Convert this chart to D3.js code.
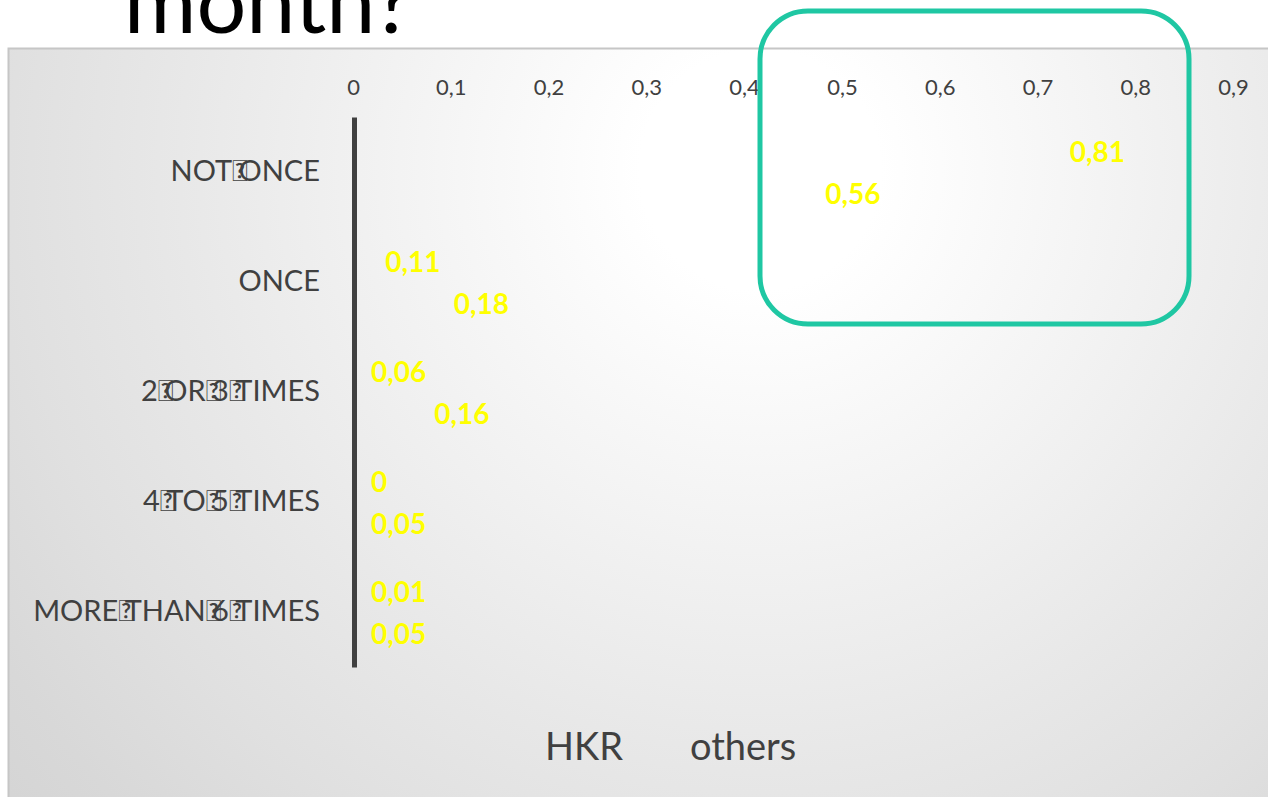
<!DOCTYPE html>
<html>
<head>
<meta charset="utf-8">
<script src="https://cdn.jsdelivr.net/npm/d3@7"></script>
<style>
  html, body { margin: 0; padding: 0; background: #ffffff; }
  svg { display: block; }
</style>
</head>
<body>
<svg id="chart" width="1268" height="797"></svg>
<script>
// ---- data ----
const title = "month?";
const categories = ["NOT\uE000ONCE", "ONCE", "2\uE000OR\uE0003\uE000TIMES", "4\uE000TO\uE0005\uE000TIMES", "MORE\uE000THAN\uE0006\uE000TIMES"];
const seriesNames = ["HKR", "others"];
const hkrValues = [0.81, 0.11, 0.06, 0, 0.01];
const othersValues = [0.56, 0.18, 0.16, 0.05, 0.05];
const tickValues = [0, 0.1, 0.2, 0.3, 0.4, 0.5, 0.6, 0.7, 0.8, 0.9];
const tickLabels = ["0", "0,1", "0,2", "0,3", "0,4", "0,5", "0,6", "0,7", "0,8", "0,9"];

const seriesValues = { "HKR": hkrValues, "others": othersValues };
const rows = categories.map((c, i) => ({ cat: c, vals: seriesNames.map(s => ({ s, v: seriesValues[s][i] })) }));

const svg = d3.select("#chart");
const W = 1268, H = 797;
const font = "Lato, 'Open Sans', 'Noto Sans', sans-serif";

// background gradient
const defs = svg.append("defs");
const grad = defs.append("radialGradient")
  .attr("id", "bg").attr("gradientUnits", "userSpaceOnUse")
  .attr("cx", 760).attr("cy", 170).attr("r", 1000);
[[0, "#ffffff"], [0.12, "#ffffff"], [0.58, "#e8e8e8"], [0.75, "#e0e0e0"], [0.9, "#d8d8d8"], [1, "#d4d4d4"]]
  .forEach(([o, c]) => grad.append("stop").attr("offset", o).attr("stop-color", c));

// title (cut off at top, as in the reference)
svg.append("text")
  .attr("x", 124).attr("y", 33)
  .attr("font-family", "Lato, 'Open Sans', sans-serif")
  .attr("font-size", 88).attr("fill", "#000")
  .text(title);

// chart area
svg.append("rect")
  .attr("x", 8.5).attr("y", 48.5).attr("width", W).attr("height", H)
  .attr("fill", "url(#bg)")
  .attr("stroke", "#c6c6c6").attr("stroke-width", 2);

// scales
const x = d3.scaleLinear().domain([0, 0.9]).range([354, 1234]);
const y = d3.scaleBand().domain(categories).range([117, 667]).paddingInner(0).paddingOuter(0);
const y1 = d3.scaleBand().domain(seriesNames).range([0, y.bandwidth()]).paddingOuter(0.34).paddingInner(0);

// top value axis (labels only)
const xAxis = d3.axisTop(x).tickValues(tickValues)
  .tickFormat((d, i) => tickLabels[i]).tickSize(0).tickPadding(0);
const gx = svg.append("g").attr("transform", "translate(-1,95)").call(xAxis);
gx.select(".domain").remove();
gx.selectAll("text")
  .attr("font-family", font).attr("font-size", 22).attr("fill", "#404040");

// category axis
const yAxis = d3.axisLeft(y).tickSize(0).tickPadding(34);
const gy = svg.append("g").attr("transform", "translate(354,0)").call(yAxis);
gy.select(".domain").attr("stroke", "#404040").attr("stroke-width", 5);
gy.selectAll("text")
  .attr("font-family", font).attr("font-size", 29).attr("fill", "#404040")
  .each(function (d) {
    const t = d3.select(this);
    t.text(null);
    // group runs so that the missing-glyph boxes take almost no room, as in the reference
    const parts = d.split(/(\uE000)/).filter(p => p.length);
    parts.forEach(p => {
      const ts = t.append("tspan").text(p);
      if (p === "\uE000") ts.style("letter-spacing", "-9px");
    });
  });

// bars (transparent, invisible like the reference)
const groups = svg.append("g").selectAll("g").data(rows).join("g")
  .attr("transform", d => `translate(0,${y(d.cat)})`);
groups.selectAll("rect").data(d => d.vals).join("rect")
  .attr("x", x(0)).attr("y", d => y1(d.s))
  .attr("width", d => x(d.v) - x(0)).attr("height", y1.bandwidth())
  .attr("fill", "#ffffff").attr("fill-opacity", 0);

// data labels (inside end)
groups.selectAll("text.lbl").data(d => d.vals).join("text")
  .attr("class", "lbl")
  .attr("y", d => y1(d.s) + y1.bandwidth() / 2)
  .attr("dominant-baseline", "central")
  .attr("font-family", font).attr("font-weight", "bold").attr("font-size", 28)
  .attr("fill", "#ffff00")
  .text(d => String(d.v).replace(".", ","))
  .each(function (d) {
    const w = this.getComputedTextLength();
    let left = x(d.v) - 21 - w;
    if (left < x(0) + 17) left = x(0) + 17;
    d3.select(this).attr("x", left);
  });

// legend
const legendX = [545, 690];
const leg = svg.append("g").selectAll("g").data(seriesNames).join("g");
leg.append("rect")
  .attr("x", (d, i) => legendX[i] - 34).attr("y", 735).attr("width", 22).attr("height", 22)
  .attr("fill", "#ffffff").attr("fill-opacity", 0);
leg.append("text")
  .attr("x", (d, i) => legendX[i]).attr("y", 745)
  .attr("dominant-baseline", "central")
  .attr("font-family", font).attr("font-size", 38).attr("fill", "#404040")
  .text(d => d);

// highlight annotation
svg.append("rect")
  .attr("x", 760).attr("y", 11).attr("width", 429).attr("height", 313)
  .attr("rx", 48).attr("ry", 48)
  .attr("fill", "none").attr("stroke", "#1fc7a3").attr("stroke-width", 5);
</script>
</body>
</html>
